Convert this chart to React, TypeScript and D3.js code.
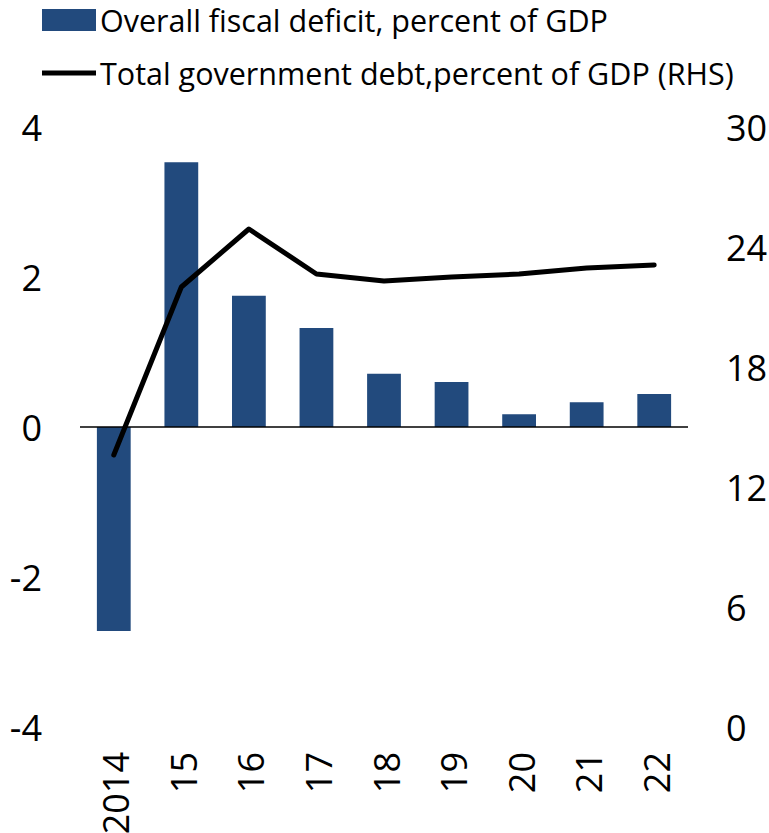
import React from "react";
import * as d3 from "d3";

const categories = ["2014", "15", "16", "17", "18", "19", "20", "21", "22"];
const deficit = [-2.72, 3.53, 1.75, 1.32, 0.71, 0.6, 0.17, 0.33, 0.44];
const debt = [13.6, 22.0, 24.9, 22.65, 22.3, 22.5, 22.65, 22.95, 23.1];
const leftTicks = [-4, -2, 0, 2, 4];
const rightTicks = [0, 6, 12, 18, 24, 30];
const legendLabels = [
  "Overall fiscal deficit, percent of GDP",
  "Total government debt,percent of GDP (RHS)",
];

const W = 769;
const H = 833;
const BAR = "#224A7D";
const FONT = "'Open Sans', 'Noto Sans', sans-serif";

export default function App() {
  const x = d3
    .scaleBand<string>()
    .domain(categories)
    .range([80, 688])
    .paddingInner(0.5)
    .paddingOuter(0.25);
  const yL = d3.scaleLinear().domain([-4, 4]).range([727, 127]);
  const yR = d3.scaleLinear().domain([0, 30]).range([727, 127]);
  const line = d3
    .line<number>()
    .x((_, i) => (x(categories[i]) as number) + x.bandwidth() / 2)
    .y((d) => yR(d));

  return (
    <svg
      width={W}
      height={H}
      style={{ position: "absolute", left: 0, top: 0, background: "#fff" }}
      fontFamily={FONT}
    >
      {/* legend */}
      <rect x={42} y={9} width={54} height={22} fill={BAR} />
      <text x={100} y={20} dominantBaseline="central" fontSize={30.5} fill="#000">
        {legendLabels[0]}
      </text>
      <line x1={42} x2={96} y1={73} y2={73} stroke="#000" strokeWidth={5} />
      <text x={100} y={73} dominantBaseline="central" fontSize={30.5} fill="#000">
        {legendLabels[1]}
      </text>

      {/* bars */}
      {deficit.map((v, i) => (
        <rect
          key={i}
          x={x(categories[i])}
          width={x.bandwidth()}
          y={Math.min(yL(v), yL(0))}
          height={Math.abs(yL(v) - yL(0))}
          fill={BAR}
        />
      ))}

      {/* zero line */}
      <line x1={80} x2={688} y1={yL(0)} y2={yL(0)} stroke="#000" strokeWidth={1.5} />

      {/* debt line */}
      <path
        d={line(debt) || ""}
        fill="none"
        stroke="#000"
        strokeWidth={5}
        strokeLinecap="round"
        strokeLinejoin="round"
      />

      {/* left axis labels */}
      {leftTicks.map((t) => (
        <text
          key={t}
          x={42}
          y={yL(t)}
          textAnchor="end"
          dominantBaseline="central"
          fontSize={36}
          fill="#000"
        >
          {t}
        </text>
      ))}

      {/* right axis labels */}
      {rightTicks.map((t) => (
        <text
          key={t}
          x={726}
          y={yR(t)}
          textAnchor="start"
          dominantBaseline="central"
          fontSize={36}
          fill="#000"
        >
          {t}
        </text>
      ))}

      {/* x labels */}
      {categories.map((c) => {
        const cx = (x(c) as number) + x.bandwidth() / 2 + 2;
        return (
          <text
            key={c}
            transform={`translate(${cx},752) rotate(-90)`}
            textAnchor="end"
            dominantBaseline="central"
            fontSize={36}
            fill="#000"
          >
            {c}
          </text>
        );
      })}
    </svg>
  );
}
